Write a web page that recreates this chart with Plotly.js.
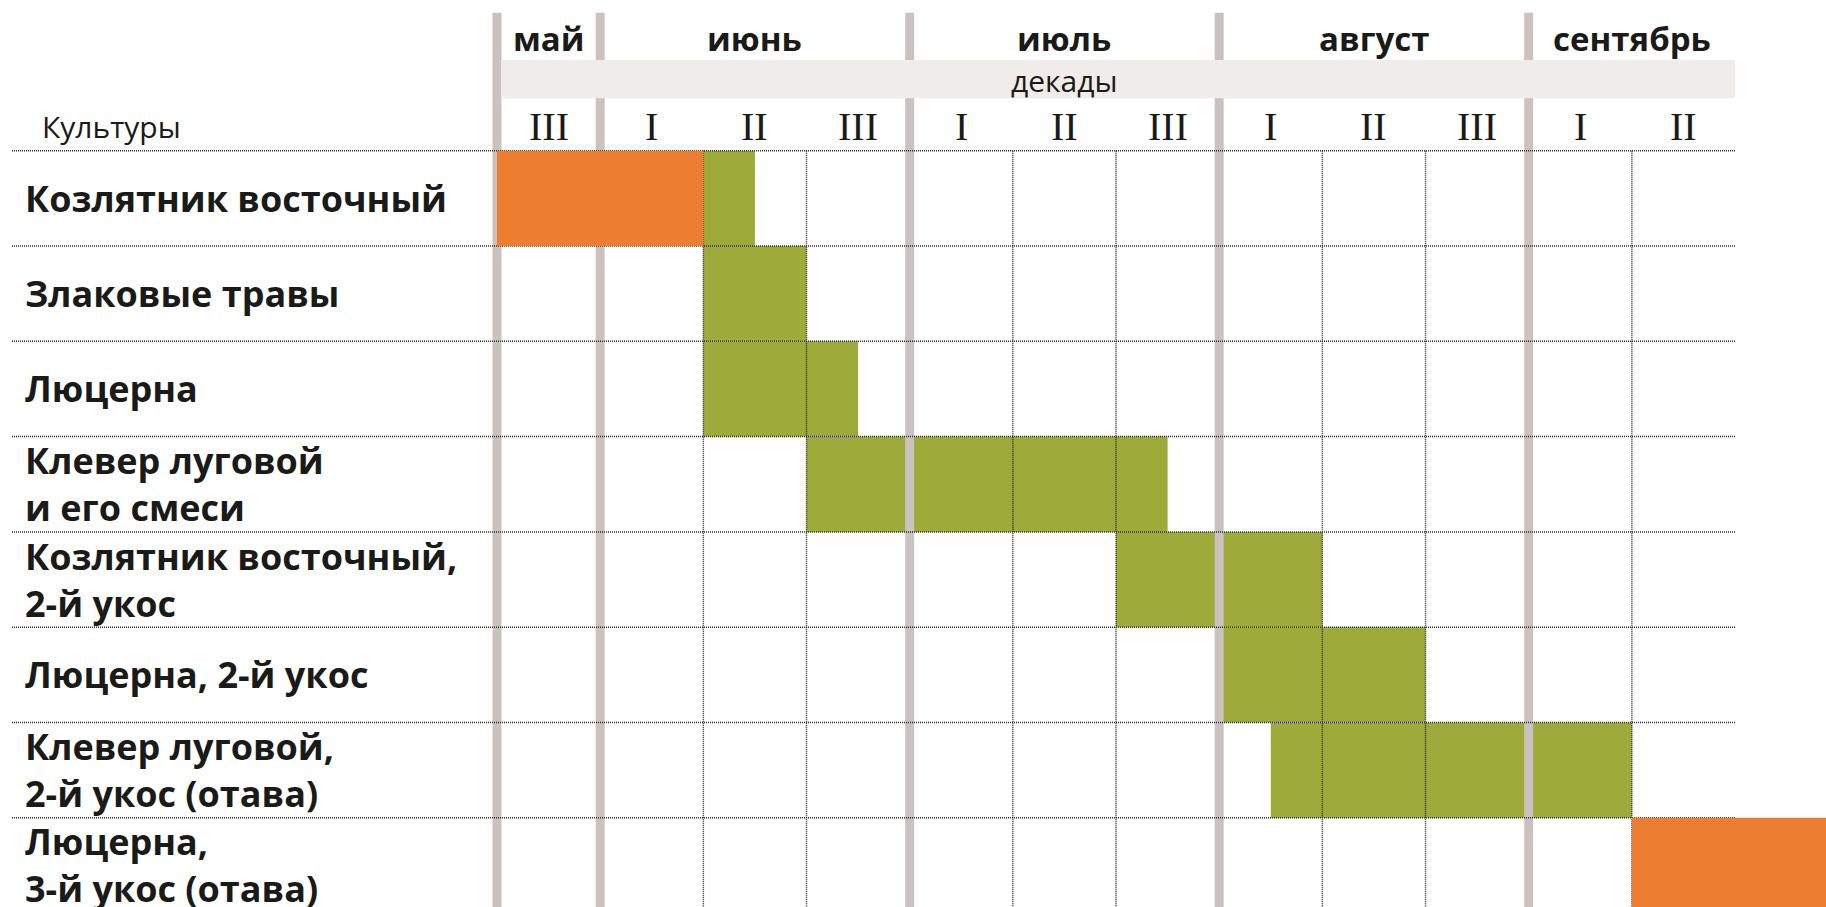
<!DOCTYPE html>
<html><head><meta charset="utf-8">
<script src="https://cdn.plot.ly/plotly-3.0.1.min.js"></script>
<style>html,body{margin:0;padding:0;background:#fff;overflow:hidden}</style>
</head><body><div id="chart" style="width:1826px;height:907px"></div>
<script>
// ---------- data ----------
const crops = [
  "Козлятник восточный",
  "Злаковые травы",
  "Люцерна",
  "Клевер луговой\nи его смеси",
  "Козлятник восточный,\n2-й укос",
  "Люцерна, 2-й укос",
  "Клевер луговой,\n2-й укос (отава)",
  "Люцерна,\n3-й укос (отава)"
];
const months = ["май", "июнь", "июль", "август", "сентябрь"];
const monthDecades = [["III"], ["I", "II", "III"], ["I", "II", "III"], ["I", "II", "III"], ["I", "II"]];
const headerLeft = "Культуры";
const headerBand = "декады";
// periods in decade units, 0 = start of May III
const greenRow   = [0, 1, 2, 3, 4, 5, 6];
const greenStart = [2, 2, 2, 3, 6, 7, 7.5];
const greenEnd   = [2.5, 3, 3.5, 6.5, 8, 9, 11];
const orangeRow   = [0, 7];
const orangeStart = [0, 11];
const orangeEnd   = [2, 13];

// ---------- geometry (pixels of the 1826x907 canvas) ----------
const W = 1826, H = 907;
const COL0 = 497, COLW = 103.17;   // x pixel of decade 0, decade width
const ROW0 = 150.7, ROWH = 95.3;   // y pixel of first row top, row height
const pxToCol = p => (p - COL0) / COLW;
const pxToRow = p => (p - ROW0) / ROWH - 0.5;

const decadeLabels = monthDecades.flat();
const nDec = decadeLabels.length;
const monthStart = [];
let acc = 0;
monthDecades.forEach(d => { monthStart.push(acc); acc += d.length; });
const monthCenter = monthStart.map((s, i) => s + monthDecades[i].length / 2);
const innerBounds = [];
for (let b = 1; b < nDec; b++) if (!monthStart.includes(b)) innerBounds.push(b);

const xr = [pxToCol(0), pxToCol(W)];
const yr = [pxToRow(H), pxToRow(0)];
const yBottom = pxToRow(H + 20);

const ink = "#1a1a18";
const dotLine = { color: "#2e2e2e", width: 1.5, dash: "1px,1px" };
const traces = [];
traces.push({
  type: "bar", orientation: "h",
  y: greenRow, base: greenStart, x: greenEnd.map((e, i) => e - greenStart[i]),
  width: 1, marker: { color: "#9eaa3a", line: { width: 0 } },
  hoverinfo: "skip", showlegend: false, xaxis: "x", yaxis: "y"
});
// month separators
{
  const xs = [], ys = [];
  monthStart.forEach(b => { xs.push(b, b, null); ys.push(pxToRow(12.7), yBottom, null); });
  traces.push({ type: "scatter", mode: "lines", x: xs, y: ys, line: { color: "#c9c2bf", width: 9 },
    hoverinfo: "skip", showlegend: false, connectgaps: false });
}
// decade dotted lines
{
  const xs = [], ys = [];
  innerBounds.forEach(b => { xs.push(b, b, null); ys.push(-0.5, yBottom, null); });
  traces.push({ type: "scatter", mode: "lines", x: xs, y: ys, line: dotLine,
    hoverinfo: "skip", showlegend: false, connectgaps: false });
}
// row dotted lines
{
  const xs = [], ys = [];
  for (let r = 0; r < crops.length; r++) { xs.push(pxToCol(12), nDec, null); ys.push(r - 0.5, r - 0.5, null); }
  traces.push({ type: "scatter", mode: "lines", x: xs, y: ys, line: dotLine,
    hoverinfo: "skip", showlegend: false, connectgaps: false });
}
traces.push({
  type: "bar", orientation: "h",
  y: orangeRow, base: orangeStart, x: orangeEnd.map((e, i) => e - orangeStart[i]),
  width: 1, marker: { color: "#ed7d31", line: { width: 0 } },
  hoverinfo: "skip", showlegend: false, xaxis: "x2", yaxis: "y2"
});

const ann = [];
months.forEach((m, i) => ann.push({ x: monthCenter[i], y: pxToRow(38), xref: "x", yref: "y", text: m, showarrow: false,
  font: { family: "Open Sans", size: 33, color: ink, weight: "bold" }, xanchor: "center", yanchor: "middle" }));
decadeLabels.forEach((d, i) => ann.push({ x: i + 0.5, y: pxToRow(126), xref: "x", yref: "y", text: d, showarrow: false,
  font: { family: "Liberation Serif", size: 40, color: ink }, xanchor: "center", yanchor: "middle" }));
ann.push({ x: 5.5, y: pxToRow(80), xref: "x", yref: "y", text: headerBand, showarrow: false,
  font: { family: "Open Sans", size: 30, color: ink }, xanchor: "center", yanchor: "middle" });
ann.push({ x: 40 / W, y: pxToRow(126), xref: "paper", yref: "y", text: headerLeft, showarrow: false,
  font: { family: "Open Sans", size: 30, color: ink }, xanchor: "left", yanchor: "middle" });
crops.forEach((c, i) => {
  ann.push({ x: 23 / W, y: i, xref: "paper", yref: "y", text: c.split("\n").join("<br>"), showarrow: false,
    align: "left",
    font: { family: "Open Sans", size: 36, color: ink, weight: "bold" }, xanchor: "left", yanchor: "middle" });
});

const axBase = { visible: false, showgrid: false, zeroline: false, fixedrange: true };
const layout = {
  width: W, height: H, margin: { l: 0, r: 0, t: 0, b: 0, pad: 0 },
  paper_bgcolor: "#ffffff", plot_bgcolor: "#ffffff", showlegend: false, barmode: "overlay",
  xaxis: Object.assign({}, axBase, { range: xr }),
  yaxis: Object.assign({}, axBase, { range: yr }),
  xaxis2: Object.assign({}, axBase, { range: xr, overlaying: "x" }),
  yaxis2: Object.assign({}, axBase, { range: yr, overlaying: "y" }),
  shapes: [{ type: "rect", xref: "x", yref: "y", layer: "above",
    x0: pxToCol(501), x1: nDec, y0: pxToRow(60), y1: pxToRow(98.3),
    fillcolor: "#efecea", line: { width: 0 } }],
  annotations: ann
};
Plotly.newPlot("chart", traces, layout, { displayModeBar: false, staticPlot: true });
</script></body></html>
